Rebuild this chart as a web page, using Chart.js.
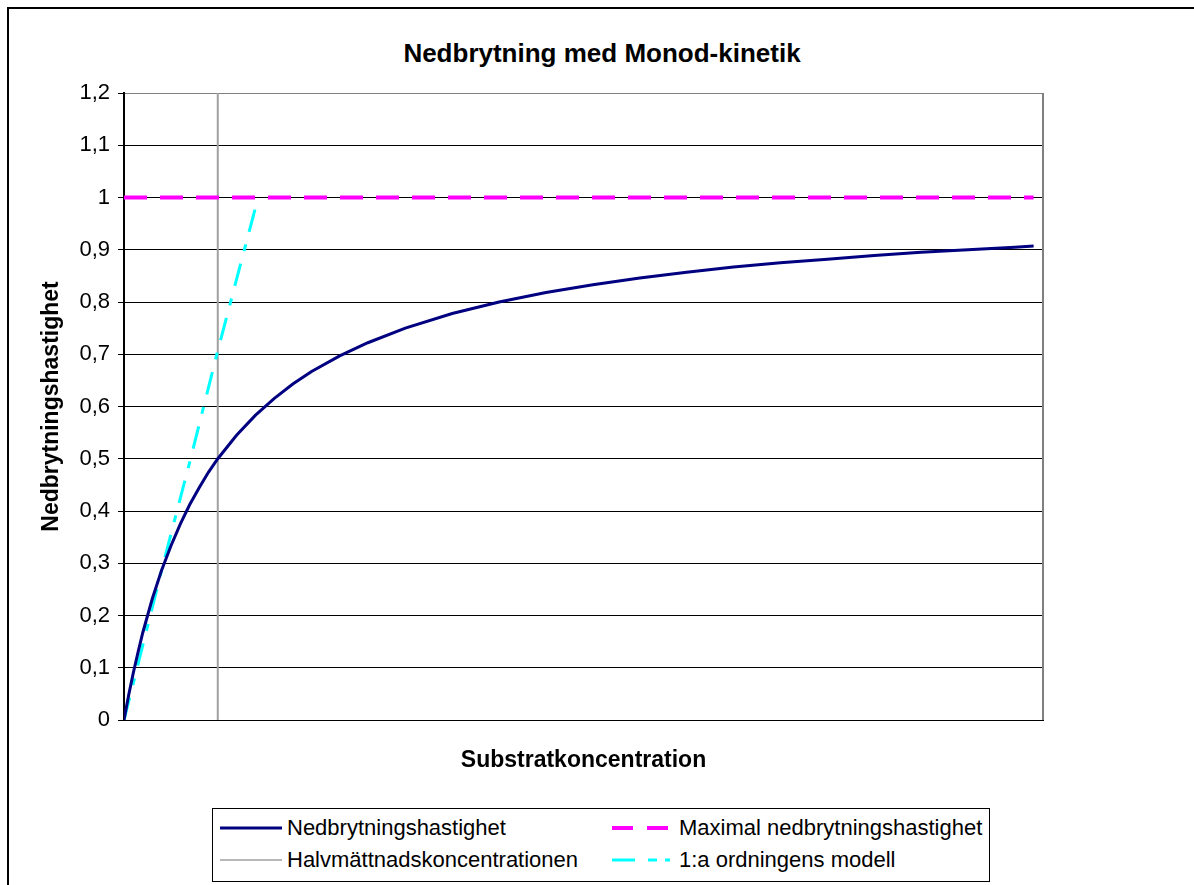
<!DOCTYPE html>
<html lang="sv">
<head>
<meta charset="utf-8">
<title>Nedbrytning med Monod-kinetik</title>
<script src="https://cdn.jsdelivr.net/npm/chart.js@4/dist/chart.umd.min.js"></script>
<style>
  html, body { margin: 0; padding: 0; background: #fff; }
  body { position: relative; width: 1194px; height: 885px; overflow: hidden;
         font-family: "Liberation Sans", Arial, sans-serif; }
  #frame { position: absolute; left: 7px; top: 7px; width: 1200px; height: 900px;
           border: 2px solid #000; box-sizing: border-box; }
  #title { position: absolute; left: 7px; width: 1190px; top: 38px; line-height: 30px;
           text-align: center; font-weight: bold; font-size: 26px; color: #000; }
  #chart { position: absolute; left: 0; top: 0; }
  #legend { position: absolute; left: 212px; top: 808px; width: 778px; height: 74px;
            border: 1px solid #000; box-sizing: border-box; background: #fff;
            display: grid; grid-template-columns: 392px 1fr; grid-auto-rows: 32px;
            padding: 3px 0 0 7px; }
  .item { display: flex; align-items: center; font-size: 22px; color: #000; white-space: nowrap; }
  .item svg { width: 62px; height: 8px; margin-right: 5px; flex: none; }
</style>
</head>
<body>
<div id="frame"></div>
<div id="title">Nedbrytning med Monod-kinetik</div>
<canvas id="chart" width="1194" height="885"></canvas>
<div id="legend"></div>
<script>
// Substrate concentration (x) and Monod degradation rate (y)
const substrate = [0, 0.5, 1, 1.5, 2, 3, 4, 5, 6, 7, 8, 9, 10, 12, 14, 16, 18, 20, 23, 26,
                   30, 35, 40, 45, 50, 55, 60, 65, 70, 75, 80, 85, 90, 95, 97];
const rate = [0, 0.048, 0.091, 0.13, 0.167, 0.231, 0.286, 0.333, 0.375, 0.412, 0.444, 0.474,
              0.5, 0.545, 0.583, 0.615, 0.643, 0.667, 0.697, 0.722, 0.75, 0.778, 0.8, 0.818,
              0.833, 0.846, 0.857, 0.867, 0.875, 0.882, 0.889, 0.895, 0.9, 0.905, 0.907];

// Maximum rate (horizontal reference)
const maxSubstrate = [0, 97];
const maxRate = [1, 1];

// Half-saturation concentration (vertical reference)
const halfSubstrate = [10, 10];
const halfRate = [0, 1.2];

// First-order model
const firstSubstrate = [0, 1.4, 4.2, 7.1, 9.9, 14.3];
const firstRate = [0, 0.1, 0.3, 0.5, 0.7, 1.0];

// Y tick labels (Swedish decimal comma)
const yTickLabels = ['0', '0,1', '0,2', '0,3', '0,4', '0,5', '0,6', '0,7', '0,8', '0,9', '1', '1,1', '1,2'];

const seriesNames = ['Nedbrytningshastighet', 'Maximal nedbrytningshastighet',
                     'Halvmättnadskoncentrationen', '1:a ordningens modell'];

const toPoints = (xs, ys) => xs.map((x, i) => ({ x, y: ys[i] }));

const FONT = '"Liberation Sans", Arial, sans-serif';

const frameEdge = {
  id: 'frameEdge',
  beforeDatasetsDraw(chart) {
    const { ctx, chartArea: a } = chart;
    ctx.save();
    ctx.strokeStyle = '#808080';
    ctx.lineWidth = 2;
    ctx.beginPath();
    ctx.moveTo(a.right, a.top);
    ctx.lineTo(a.right, a.bottom);
    ctx.stroke();
    ctx.restore();
  }
};

const chart = new Chart(document.getElementById('chart'), {
  type: 'scatter',
  data: {
    datasets: [
      { label: seriesNames[0], data: toPoints(substrate, rate), showLine: true,
        borderColor: '#000080', borderWidth: 3, pointRadius: 0, tension: 0, order: 1 },
      { label: seriesNames[1], data: toPoints(maxSubstrate, maxRate), showLine: true,
        borderColor: '#FF00FF', borderWidth: 4, borderDash: [23, 13], pointRadius: 0, order: 3 },
      { label: seriesNames[2], data: toPoints(halfSubstrate, halfRate), showLine: true,
        borderColor: '#a0a0a0', borderWidth: 2, pointRadius: 0, order: 4 },
      { label: seriesNames[3], data: toPoints(firstSubstrate, firstRate), showLine: true,
        borderColor: '#00FFFF', borderWidth: 3, borderDash: [23, 13, 7, 13], pointRadius: 0, order: 2 }
    ]
  },
  options: {
    responsive: false,
    animation: false,
    devicePixelRatio: 1,
    layout: { padding: { left: 0, top: 93, right: 151, bottom: 0 } },
    plugins: {
      legend: { display: false },
      title: { display: false },
      tooltip: { enabled: false }
    },
    scales: {
      x: {
        type: 'linear', min: 0, max: 98,
        ticks: { display: false },
        grid: { display: false },
        border: { display: true, color: '#000', width: 1 },
        title: { display: true, text: 'Substratkoncentration', color: '#000',
                 font: { family: FONT, size: 23, weight: 'bold' },
                 padding: { top: 0, bottom: 111 } },
        afterFit(s) { s.height = 165; }
      },
      y: {
        type: 'linear', min: 0, max: 1.2,
        ticks: { stepSize: 0.1, color: '#000', padding: 8,
                 font: { family: FONT, size: 22 },
                 callback: (v, i) => yTickLabels[i] },
        grid: { color: ctx => (ctx.index === yTickLabels.length - 1 ? '#808080' : '#000'),
                lineWidth: 1, tickLength: 6, tickColor: '#000', drawTicks: true },
        border: { display: true, color: '#000', width: 2 },
        title: { display: true, text: 'Nedbrytningshastighet', color: '#000',
                 font: { family: FONT, size: 23, weight: 'bold' },
                 padding: { top: 38, bottom: 0 } },
        afterFit(s) { s.width = 124; }
      }
    }
  },
  plugins: [frameEdge]
});

// Two-column legend in reading order
const legendOrder = [0, 1, 2, 3];
const legend = document.getElementById('legend');
const legendDash = { 0: '', 1: '21 14', 2: '', 3: '23 13 9 8 5' };
legendOrder.forEach(i => {
  const ds = chart.data.datasets[i];
  const item = document.createElement('div');
  item.className = 'item';
  const w = i === 2 ? 1.5 : (i === 1 ? 4 : 3);
  const dash = legendDash[i] ? ` stroke-dasharray="${legendDash[i]}"` : '';
  item.innerHTML = `<svg viewBox="0 0 62 8"><line x1="0" y1="4" x2="62" y2="4" stroke="${ds.borderColor}" stroke-width="${w}"${dash}/></svg><span></span>`;
  item.querySelector('span').textContent = ds.label;
  legend.appendChild(item);
});
</script>
</body>
</html>
